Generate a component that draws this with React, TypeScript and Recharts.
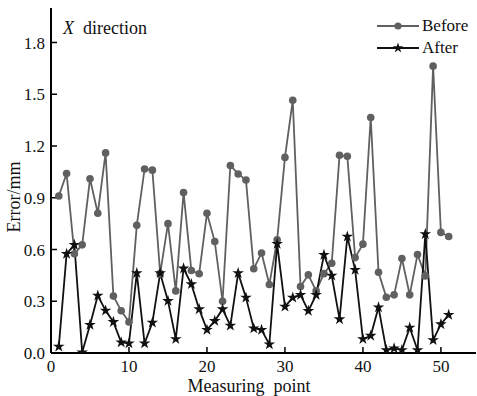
import { LineChart, Line, XAxis, YAxis, Label, Symbols } from 'recharts';

const points = [
  1, 2, 3, 4, 5, 6, 7, 8, 9, 10, 11, 12, 13, 14, 15, 16, 17, 18, 19, 20, 21, 22, 23, 24, 25, 26,
  27, 28, 29, 30, 31, 32, 33, 34, 35, 36, 37, 38, 39, 40, 41, 42, 43, 44, 45, 46, 47, 48, 49, 50, 51,
];

const before = [
  0.91, 1.04, 0.575, 0.627, 1.01, 0.81, 1.16, 0.33, 0.245, 0.18, 0.74, 1.067, 1.06, 0.46, 0.75, 0.36,
  0.93, 0.478, 0.459, 0.81, 0.646, 0.3, 1.087, 1.038, 1.003, 0.488, 0.58, 0.397, 0.656, 1.134, 1.465,
  0.385, 0.453, 0.36, 0.46, 0.52, 1.146, 1.14, 0.553, 0.631, 1.365, 0.468, 0.323, 0.337, 0.548, 0.337,
  0.571, 0.447, 1.663, 0.699, 0.675,
];

const after = [
  0.037, 0.575, 0.627, 0.004, 0.163, 0.333, 0.246, 0.18, 0.062, 0.056, 0.463, 0.056, 0.176, 0.463, 0.302,
  0.081, 0.49, 0.399, 0.254, 0.134, 0.186, 0.254, 0.159, 0.463, 0.321, 0.143, 0.134, 0.05, 0.633, 0.269,
  0.321, 0.337, 0.244, 0.337, 0.569, 0.449, 0.196, 0.675, 0.482, 0.081, 0.1, 0.265, 0.017, 0.027, 0.017,
  0.147, 0.017, 0.689, 0.075, 0.167, 0.221,
];

const xTicks = [0, 10, 20, 30, 40, 50];
const yTicks = [0, 0.3, 0.6, 0.9, 1.2, 1.5, 1.8];

const data = points.map((p, i) => ({ point: p, before: before[i], after: after[i] }));

const FONT = "'Times New Roman', 'Liberation Serif', 'DejaVu Serif', serif";
const GRAY = '#606060';
const BLACK = '#111';

const StarDot = (props: any) => {
  const { cx, cy, index } = props;
  if (cx == null || cy == null) return <g key={`s${index}`} />;
  return <Symbols key={`s${index}`} cx={cx} cy={cy} type="star" size={42} fill={BLACK} stroke="none" />;
};

const legendRow = (label: string, color: string, marker: 'circle' | 'star') => (
  <div style={{ display: 'flex', alignItems: 'center', height: 22 }}>
    <svg width={46} height={14} style={{ display: 'block' }}>
      <line x1={1} y1={7} x2={43} y2={7} stroke={color} strokeWidth={1.8} />
      {marker === 'circle' ? (
        <circle cx={22} cy={7} r={3.6} fill={color} />
      ) : (
        <Symbols cx={22} cy={7} type="star" size={34} fill={color} />
      )}
    </svg>
    <span style={{ marginLeft: 0 }}>{label}</span>
  </div>
);

export default function App() {
  return (
    <div style={{ position: 'absolute', left: 0, top: 0, width: 477, height: 396, fontFamily: FONT, background: '#fff' }}>
      <LineChart
        width={477}
        height={396}
        data={data}
        margin={{ top: 8, right: 1, bottom: 0, left: 0 }}
        style={{ fontFamily: FONT }}
      >
        <XAxis
          dataKey="point"
          type="number"
          domain={[0, 54.5]}
          ticks={xTicks}
          allowDataOverflow
          height={43}
          tickSize={-6}
          tickMargin={13}
          axisLine={{ stroke: '#000', strokeWidth: 2 }}
          tickLine={{ stroke: '#000', strokeWidth: 1.5 }}
          tick={{ fill: '#111', fontSize: 17, fontFamily: FONT }}
          interval={0}
        >
          <Label
            content={() => (
              <text
                x={249}
                y={392}
                textAnchor="middle"
                fontSize={18}
                fill="#111"
                style={{ fontFamily: FONT, whiteSpace: 'pre' }}
              >
                {'Measuring  point'}
              </text>
            )}
          />
        </XAxis>
        <XAxis
          xAxisId="top"
          orientation="top"
          dataKey="point"
          type="number"
          domain={[0, 54.5]}
          height={0}
          tick={false}
          tickLine={false}
          axisLine={{ stroke: '#000', strokeWidth: 2 }}
        />
        <YAxis
          type="number"
          domain={[0, 2]}
          ticks={yTicks}
          allowDataOverflow
          width={51}
          tickSize={-6}
          tickMargin={12}
          tickFormatter={(v: number) => v.toFixed(1)}
          axisLine={{ stroke: '#000', strokeWidth: 2 }}
          tickLine={{ stroke: '#000', strokeWidth: 1.5 }}
          tick={{ fill: '#111', fontSize: 17, fontFamily: FONT }}
          interval={0}
        >
          <Label
            content={() => (
              <text
                x={20}
                y={197}
                transform="rotate(-90 20 197)"
                textAnchor="middle"
                fontSize={18}
                fill="#111"
                style={{ fontFamily: FONT }}
              >
                Error/mm
              </text>
            )}
          />
        </YAxis>
        <Line
          type="linear"
          dataKey="before"
          name="Before"
          stroke={GRAY}
          strokeWidth={1.8}
          dot={{ r: 3.8, fill: GRAY, stroke: 'none' }}
          activeDot={false}
          isAnimationActive={false}
        />
        <Line
          type="linear"
          dataKey="after"
          name="After"
          stroke={BLACK}
          strokeWidth={1.8}
          dot={StarDot}
          activeDot={false}
          isAnimationActive={false}
        />
      </LineChart>
      <div
        style={{
          position: 'absolute',
          left: 63,
          top: 18,
          fontSize: 18,
          color: '#111',
          fontFamily: FONT,
          whiteSpace: 'pre',
        }}
      >
        <i>X</i>{'  direction'}
      </div>
      <div style={{ position: 'absolute', left: 376, top: 15, fontFamily: FONT, fontSize: 17, color: '#111', lineHeight: '22px' }}>
        {legendRow('Before', GRAY, 'circle')}
        {legendRow('After', BLACK, 'star')}
      </div>
    </div>
  );
}
